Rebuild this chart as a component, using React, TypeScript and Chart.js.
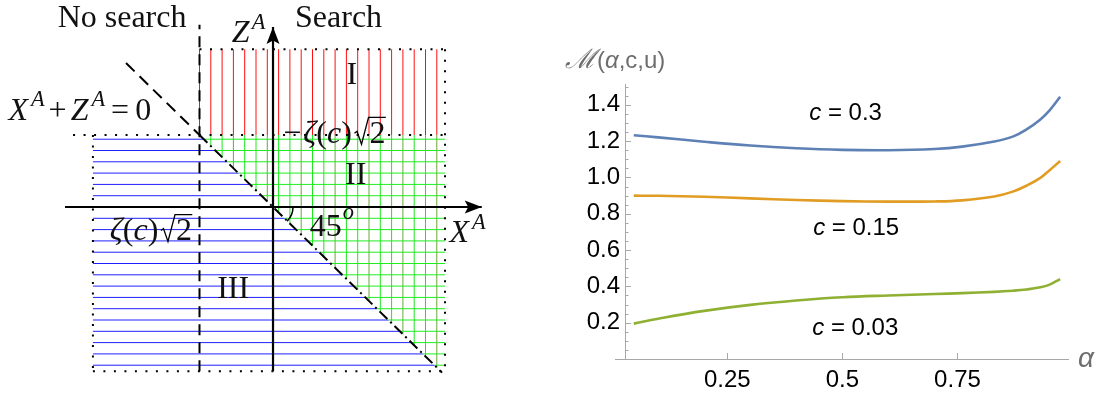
import React, { useEffect, useRef } from 'react';
import { Chart, registerables } from 'chart.js';
Chart.register(...registerables);

// ---------------- Left diagram (units: zeta(c)*sqrt(2) = 1) ----------------
const xAxisLine = [[-2.83, 0], [2.84, 0]];
const zAxisLine = [[0, -2.28], [0, 2.5]];
const searchBoundary = [[-1, -2.28], [-1, 2.53]];
const diagUpper = [[-2.0, 2.0], [-1, 1]];
const diagLower = [[-1, 1], [2.3, -2.3]];
const dottedTop = [[-1, 2.19], [2.34, 2.19]];
const dottedMid = [[-2.72, 1], [2.34, 1]];
const dottedRight = [[2.34, 2.19], [2.34, -2.28]];
const dottedBottom = [[-2.45, -2.28], [2.34, -2.28]];
const dottedLeft = [[-2.45, 1], [-2.45, -2.28]];
const regionI = [[-1.01, 1], [2.34, 1], [2.34, 2.19], [-1.01, 2.19]];
const regionII = [[-1, 1], [2.34, 1], [2.34, -2.28], [2.28, -2.28]];
const regionIII = [[-2.45, 1], [-1, 1], [2.28, -2.28], [-2.45, -2.28]];

type Seg = { t?: string; it?: boolean; sup?: boolean; gap?: number; sqrt?: string; rise?: number };
const leftLabels: { x: number; z: number; segs: Seg[] }[] = [
  { x: -2.93, z: 2.5, segs: [{ t: 'No search' }] },
  { x: 0.3, z: 2.5, segs: [{ t: 'Search' }] },
  { x: -0.56, z: 2.29, segs: [{ t: 'Z', it: true }, { gap: 2 }, { t: 'A', it: true, sup: true }] },
  { x: -3.6, z: 1.21, segs: [{ t: 'X', it: true }, { gap: 3 }, { t: 'A', it: true, sup: true }, { gap: 4 }, { t: '+' }, { gap: 4 }, { t: 'Z', it: true }, { gap: 3 }, { t: 'A', it: true, sup: true }, { gap: 6 }, { t: '=' }, { gap: 6 }, { t: '0' }] },
  { x: 0.14, z: 0.89, segs: [{ t: '\u2212' }, { gap: 2 }, { t: '\u03b6', it: true }, { t: '(' }, { t: 'c', it: true }, { t: ')' }, { gap: 2 }, { sqrt: '2' }] },
  { x: 1.0, z: 1.71, segs: [{ t: 'I' }] },
  { x: 0.98, z: 0.32, segs: [{ t: 'II' }] },
  { x: -2.22, z: -0.46, segs: [{ t: '\u03b6', it: true }, { t: '(' }, { t: 'c', it: true }, { t: ')' }, { gap: 2 }, { sqrt: '2' }] },
  { x: 0.5, z: -0.4, segs: [{ t: '45' }, { gap: 1 }, { t: 'o', it: true, sup: true, rise: 0.52 }] },
  { x: 2.4, z: -0.49, segs: [{ t: 'X', it: true }, { gap: 3 }, { t: 'A', it: true, sup: true }] },
  { x: -0.76, z: -1.26, segs: [{ t: 'III' }] },
];

// ---------------- Right chart data ----------------
const alpha = [0.047, 0.1, 0.2, 0.3, 0.4, 0.5, 0.6, 0.7, 0.76, 0.83, 0.87, 0.9, 0.93, 0.95, 0.973];
const mC030 = [1.233, 1.221, 1.197, 1.176, 1.161, 1.152, 1.15, 1.157, 1.17, 1.198, 1.225, 1.265, 1.32, 1.37, 1.445];
const mC015 = [0.9, 0.899, 0.894, 0.885, 0.876, 0.87, 0.867, 0.868, 0.874, 0.895, 0.922, 0.955, 0.998, 1.04, 1.091];
const mC003 = [0.195, 0.222, 0.265, 0.298, 0.322, 0.34, 0.35, 0.358, 0.363, 0.37, 0.376, 0.383, 0.395, 0.41, 0.44];
const xTickVals = [0.25, 0.5, 0.75];
const curveLabels = [
  { x: 0.507, y: 1.355, c: '0.3' },
  { x: 0.53, y: 0.72, c: '0.15' },
  { x: 0.528, y: 0.17, c: '0.03' },
];

const SERIF = '"Liberation Serif", "Times New Roman", serif';
const SANS = '"Liberation Sans", Arial, sans-serif';
const FS = 24;

function drawRich(ctx: CanvasRenderingContext2D, segs: Seg[], x: number, y: number, size: number) {
  let cx = x;
  ctx.textAlign = 'left';
  ctx.textBaseline = 'alphabetic';
  for (const s of segs) {
    if (s.gap) { cx += s.gap; continue; }
    if (s.sqrt) {
      ctx.font = `${size}px ${SERIF}`;
      const w = ctx.measureText(s.sqrt).width;
      ctx.beginPath();
      ctx.lineWidth = 1.3;
      ctx.moveTo(cx + 0.02 * size, y - 0.3 * size);
      ctx.lineTo(cx + 0.1 * size, y - 0.36 * size);
      ctx.lineTo(cx + 0.24 * size, y + 0.04 * size);
      ctx.lineTo(cx + 0.46 * size, y - 0.8 * size);
      ctx.lineTo(cx + 0.5 * size + w, y - 0.8 * size);
      ctx.stroke();
      ctx.fillText(s.sqrt, cx + 0.49 * size, y);
      cx += 0.5 * size + w;
      continue;
    }
    const sz = s.sup ? size * 0.7 : size;
    ctx.font = `${s.it ? 'italic ' : ''}${sz}px ${SERIF}`;
    ctx.fillText(s.t || '', cx, s.sup ? y - size * (s.rise ?? 0.42) : y);
    cx += ctx.measureText(s.t || '').width;
  }
}

const toPts = (a: number[][]) => a.map(([x, y]) => ({ x, y }));
const line = (pts: number[][], extra: any = {}) => ({
  data: toPts(pts), showLine: true, pointRadius: 0, borderColor: '#000', borderWidth: 2, fill: false, ...extra,
});

const hatchPlugin = {
  id: 'hatch',
  beforeDatasetsDraw(chart: any) {
    const { ctx, chartArea: a } = chart;
    const xs = chart.scales.x, ys = chart.scales.y;
    const SP = 11.3;
    const x0 = xs.getPixelForValue(-1);
    const z0 = ys.getPixelForValue(0);
    const draw = (poly: number[][], colV: ((k: number) => string) | null, colH: ((k: number) => string) | null) => {
      ctx.save();
      ctx.beginPath();
      poly.forEach(([px, pz], i) => {
        const X = xs.getPixelForValue(px), Y = ys.getPixelForValue(pz);
        if (i) ctx.lineTo(X, Y); else ctx.moveTo(X, Y);
      });
      ctx.closePath();
      ctx.clip();
      ctx.lineWidth = 1;
      if (colV) for (let k = -80; k < 80; k++) {
        const X = x0 + k * SP;
        if (X < a.left || X > a.right) continue;
        ctx.strokeStyle = colV(k);
        ctx.beginPath(); ctx.moveTo(X, a.top); ctx.lineTo(X, a.bottom); ctx.stroke();
      }
      if (colH) for (let k = -80; k < 80; k++) {
        const Y = z0 + k * SP;
        if (Y < a.top || Y > a.bottom) continue;
        ctx.strokeStyle = colH(k);
        ctx.beginPath(); ctx.moveTo(a.left, Y); ctx.lineTo(a.right, Y); ctx.stroke();
      }
      ctx.restore();
    };
    draw(regionI, () => '#ff1010', null);
    draw(regionII, (k) => (k % 3 === 0 ? '#6aa83a' : '#1ee61e'), () => '#1ef01e');
    draw(regionIII, null, () => '#2020ff');
  },
  afterDatasetsDraw(chart: any) {
    const { ctx } = chart;
    const xs = chart.scales.x, ys = chart.scales.y;
    ctx.save();
    ctx.fillStyle = '#000';
    ctx.strokeStyle = '#000';
    chart.data.datasets.forEach((ds: any, i: number) => {
      if (!ds.arrow) return;
      const pts = chart.getDatasetMeta(i).data;
      const p1 = pts[pts.length - 2], p2 = pts[pts.length - 1];
      const ang = Math.atan2(p2.y - p1.y, p2.x - p1.x);
      const L = 17, H = 6.5;
      ctx.save();
      ctx.translate(p2.x, p2.y);
      ctx.rotate(ang);
      ctx.beginPath();
      ctx.moveTo(0, 0); ctx.lineTo(-L, -H); ctx.lineTo(-L * 0.8, 0); ctx.lineTo(-L, H); ctx.closePath();
      ctx.fill();
      ctx.restore();
    });
    // 45 degree arc
    const ox = xs.getPixelForValue(0), oy = ys.getPixelForValue(0);
    ctx.lineWidth = 1.5;
    ctx.beginPath();
    ctx.arc(ox, oy, 20, 0, Math.PI / 4);
    ctx.stroke();
    ctx.fillStyle = '#111';
    for (const l of leftLabels) {
      drawRich(ctx, l.segs, xs.getPixelForValue(l.x), ys.getPixelForValue(l.z), 32);
    }
    ctx.restore();
  },
};

const rightDecor = {
  id: 'rdecor',
  afterDraw(chart: any) {
    const { ctx, chartArea: a } = chart;
    const xs = chart.scales.x, ys = chart.scales.y;
    ctx.save();
    ctx.strokeStyle = '#a8a8a8';
    ctx.lineWidth = 1;
    ctx.beginPath();
    ctx.moveTo(a.left - 10, Math.round(a.bottom) + 0.5);
    ctx.lineTo(a.left, Math.round(a.bottom) + 0.5);
    ctx.stroke();
    for (let i = 1; i * 0.05 <= ys.max; i++) {
      const Y = Math.round(ys.getPixelForValue(i * 0.05)) + 0.5;
      const len = i % 4 === 0 ? 6 : 3.5;
      ctx.beginPath(); ctx.moveTo(a.left, Y); ctx.lineTo(a.left + len, Y); ctx.stroke();
    }
    for (const v of xTickVals) {
      const X = Math.round(xs.getPixelForValue(v)) + 0.5;
      ctx.beginPath(); ctx.moveTo(X, a.bottom); ctx.lineTo(X, a.bottom - 6); ctx.stroke();
    }
    // curve labels
    ctx.fillStyle = '#000';
    ctx.textBaseline = 'middle';
    ctx.textAlign = 'left';
    for (const l of curveLabels) {
      ctx.font = `italic ${FS}px ${SANS}`;
      const wc = ctx.measureText('c').width;
      ctx.font = `${FS}px ${SANS}`;
      const rest = ' = ' + l.c;
      const wr = ctx.measureText(rest).width;
      const X = xs.getPixelForValue(l.x) - (wc + wr) / 2;
      const Y = ys.getPixelForValue(l.y);
      ctx.font = `italic ${FS}px ${SANS}`;
      ctx.fillText('c', X, Y);
      ctx.font = `${FS}px ${SANS}`;
      ctx.fillText(rest, X + wc, Y);
    }
    // axis labels
    ctx.fillStyle = '#6e6e6e';
    ctx.textBaseline = 'alphabetic';
    const lx = a.left - 60;
    ctx.font = `italic 27px "DejaVu Serif", serif`;
    ctx.fillText('\u2133', lx, 68);
    const wm = ctx.measureText('\u2133').width;
    ctx.font = `24px ${SANS}`;
    ctx.fillText('(', lx + wm + 1, 68);
    let cx = lx + wm + 1 + ctx.measureText('(').width;
    ctx.font = `italic 24px ${SANS}`;
    ctx.fillText('\u03b1', cx, 68);
    cx += ctx.measureText('\u03b1').width;
    ctx.font = `24px ${SANS}`;
    ctx.fillText(',c,u)', cx, 68);
    ctx.font = `italic 28px ${SANS}`;
    ctx.textBaseline = 'middle';
    ctx.fillText('\u03b1', a.right + 10, a.bottom);
    ctx.restore();
  },
};

export default function App() {
  const leftRef = useRef<HTMLCanvasElement>(null);
  const rightRef = useRef<HTMLCanvasElement>(null);

  useEffect(() => {
    const left = new Chart(leftRef.current as HTMLCanvasElement, {
      type: 'scatter',
      data: {
        datasets: [
          line(dottedTop, { borderDash: [2, 8.5] }),
          line(dottedMid, { borderDash: [2, 8.5] }),
          line(dottedRight, { borderDash: [2, 8.5] }),
          line(dottedBottom, { borderDash: [2, 8.5] }),
          line(dottedLeft, { borderDash: [2, 8.5] }),
          line(searchBoundary, { borderDash: [11, 7] }),
          line(diagUpper, { borderDash: [12, 7] }),
          line(diagLower, { borderDash: [11, 4, 2, 4] }),
          line(xAxisLine, { borderWidth: 2.2, arrow: true }),
          line(zAxisLine, { borderWidth: 2.2, arrow: true }),
        ] as any,
      },
      options: {
        responsive: false,
        animation: false,
        events: [],
        layout: { padding: 0 },
        plugins: { legend: { display: false }, tooltip: { enabled: false } },
        scales: {
          x: { type: 'linear', display: false, min: -3.714, max: 3.088 },
          y: { type: 'linear', display: false, min: -2.597, max: 2.875 },
        },
      },
      plugins: [hatchPlugin],
    });

    const mk = (vals: number[]) => alpha.map((a, i) => ({ x: a, y: vals[i] }));
    const right = new Chart(rightRef.current as HTMLCanvasElement, {
      type: 'line',
      data: {
        datasets: [
          { data: mk(mC030), borderColor: '#5E81B5', borderWidth: 2.6, pointRadius: 0, tension: 0.4 },
          { data: mk(mC015), borderColor: '#E19C24', borderWidth: 2.6, pointRadius: 0, tension: 0.4 },
          { data: mk(mC003), borderColor: '#8FB032', borderWidth: 2.6, pointRadius: 0, tension: 0.4 },
        ] as any,
      },
      options: {
        responsive: false,
        animation: false,
        events: [],
        layout: { padding: { left: 45, right: 35, top: 84, bottom: 0 } },
        plugins: { legend: { display: false }, tooltip: { enabled: false } },
        scales: {
          x: {
            type: 'linear', min: 0.028, max: 0.99,
            afterBuildTicks: (s: any) => { s.ticks = xTickVals.map((v) => ({ value: v })); },
            afterFit: (s: any) => { s.height = 35; },
            grid: { display: false, drawTicks: false },
            border: { display: true, color: '#a8a8a8', width: 1 },
            ticks: { color: '#000', font: { family: SANS, size: FS }, padding: 7, maxRotation: 0, autoSkip: false, callback: (v: any) => String(v) },
          },
          y: {
            type: 'linear', min: 0, max: 1.515,
            afterFit: (s: any) => { s.width = 60; },
            grid: { display: false, drawTicks: false },
            border: { display: true, color: '#a8a8a8', width: 1 },
            ticks: { color: '#000', stepSize: 0.2, includeBounds: false, font: { family: SANS, size: FS }, padding: 5, callback: (v: any) => (Math.abs(v) < 1e-9 ? '' : Number(v).toFixed(1)) },
          },
        },
      },
      plugins: [rightDecor],
    });
    return () => { left.destroy(); right.destroy(); };
  }, []);

  return (
    <div style={{ position: 'absolute', left: 0, top: 0, width: 1103, height: 394, background: '#fff' }}>
      <canvas ref={leftRef} width={500} height={394} style={{ position: 'absolute', left: 0, top: 0 }} />
      <canvas ref={rightRef} width={583} height={394} style={{ position: 'absolute', left: 520, top: 0 }} />
    </div>
  );
}
